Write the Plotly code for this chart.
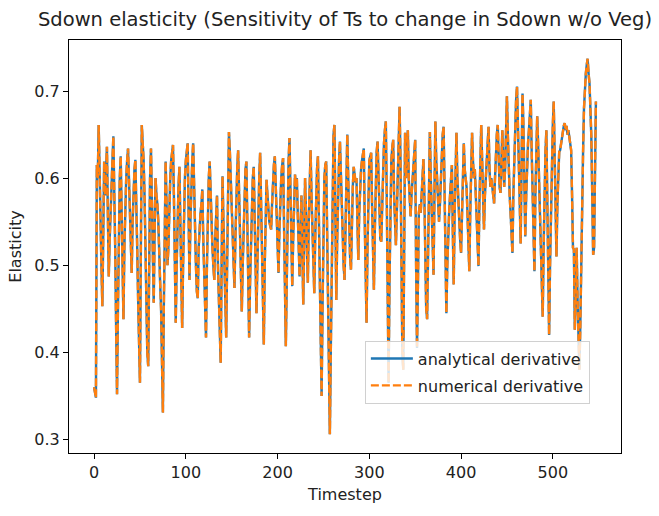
import plotly.graph_objects as go

# Elasticity of Ts with respect to Sdown (no vegetation), per timestep
analytical = [
    0.360, 0.355, 0.348, 0.615, 0.600, 0.661, 0.600, 0.520, 0.500, 0.453,
    0.550, 0.619, 0.580, 0.600, 0.636, 0.560, 0.487, 0.530, 0.570, 0.594,
    0.620, 0.648, 0.600, 0.520, 0.430, 0.352, 0.450, 0.550, 0.600, 0.625,
    0.570, 0.500, 0.438, 0.520, 0.580, 0.600, 0.620, 0.634, 0.600, 0.550,
    0.510, 0.491, 0.550, 0.590, 0.610, 0.621, 0.580, 0.520, 0.460, 0.400,
    0.365, 0.520, 0.661, 0.640, 0.620, 0.580, 0.500, 0.440, 0.400, 0.384,
    0.500, 0.600, 0.634, 0.580, 0.500, 0.457, 0.540, 0.600, 0.580, 0.570,
    0.550, 0.500, 0.480, 0.450, 0.390, 0.331, 0.450, 0.580, 0.619, 0.570,
    0.500, 0.520, 0.570, 0.600, 0.620, 0.630, 0.638, 0.580, 0.500, 0.434,
    0.500, 0.560, 0.590, 0.613, 0.550, 0.480, 0.428, 0.500, 0.560, 0.600,
    0.620, 0.635, 0.640, 0.560, 0.483, 0.550, 0.600, 0.620, 0.640, 0.580,
    0.530, 0.500, 0.470, 0.462, 0.520, 0.550, 0.560, 0.570, 0.587, 0.530,
    0.480, 0.440, 0.417, 0.500, 0.560, 0.600, 0.619, 0.580, 0.550, 0.520,
    0.500, 0.483, 0.530, 0.560, 0.580, 0.500, 0.450, 0.410, 0.388, 0.500,
    0.602, 0.550, 0.500, 0.450, 0.417, 0.500, 0.600, 0.653, 0.630, 0.600,
    0.570, 0.530, 0.500, 0.474, 0.530, 0.580, 0.610, 0.632, 0.590, 0.530,
    0.480, 0.447, 0.500, 0.550, 0.590, 0.610, 0.619, 0.560, 0.480, 0.417,
    0.480, 0.530, 0.570, 0.600, 0.613, 0.550, 0.490, 0.445, 0.500, 0.560,
    0.600, 0.629, 0.580, 0.520, 0.450, 0.409, 0.500, 0.570, 0.598, 0.580,
    0.560, 0.550, 0.545, 0.541, 0.570, 0.600, 0.615, 0.625, 0.590, 0.550,
    0.510, 0.491, 0.540, 0.580, 0.600, 0.615, 0.623, 0.550, 0.470, 0.407,
    0.480, 0.560, 0.620, 0.646, 0.600, 0.530, 0.476, 0.530, 0.580, 0.604,
    0.590, 0.600, 0.560, 0.510, 0.487, 0.540, 0.580, 0.520, 0.455, 0.530,
    0.600, 0.560, 0.510, 0.480, 0.550, 0.600, 0.632, 0.580, 0.530, 0.490,
    0.468, 0.530, 0.580, 0.610, 0.625, 0.550, 0.470, 0.400, 0.350, 0.450,
    0.550, 0.600, 0.615, 0.619, 0.540, 0.450, 0.370, 0.306, 0.400, 0.500,
    0.600, 0.650, 0.661, 0.550, 0.460, 0.530, 0.590, 0.620, 0.642, 0.600,
    0.560, 0.520, 0.500, 0.483, 0.550, 0.610, 0.650, 0.600, 0.550, 0.510,
    0.495, 0.550, 0.590, 0.613, 0.600, 0.595, 0.600, 0.550, 0.506, 0.560,
    0.600, 0.610, 0.620, 0.630, 0.634, 0.550, 0.470, 0.434, 0.520, 0.600,
    0.620, 0.625, 0.629, 0.570, 0.500, 0.472, 0.540, 0.600, 0.630, 0.642,
    0.600, 0.560, 0.530, 0.527, 0.570, 0.610, 0.640, 0.655, 0.665, 0.580,
    0.450, 0.365, 0.480, 0.590, 0.620, 0.635, 0.644, 0.580, 0.540, 0.523,
    0.560, 0.600, 0.640, 0.682, 0.620, 0.500, 0.400, 0.380, 0.500, 0.652,
    0.600, 0.620, 0.655, 0.600, 0.570, 0.556, 0.580, 0.600, 0.620, 0.635,
    0.644, 0.500, 0.405, 0.480, 0.560, 0.570, 0.560, 0.580, 0.600, 0.622,
    0.580, 0.500, 0.450, 0.438, 0.530, 0.600, 0.653, 0.600, 0.550, 0.510,
    0.489, 0.580, 0.665, 0.620, 0.590, 0.560, 0.550, 0.570, 0.600, 0.630,
    0.650, 0.659, 0.580, 0.500, 0.445, 0.500, 0.550, 0.560, 0.580, 0.600,
    0.615, 0.540, 0.478, 0.560, 0.620, 0.652, 0.600, 0.570, 0.550, 0.530,
    0.514, 0.570, 0.620, 0.640, 0.610, 0.600, 0.590, 0.560, 0.520, 0.493,
    0.560, 0.620, 0.652, 0.620, 0.600, 0.610, 0.580, 0.540, 0.510, 0.499,
    0.570, 0.630, 0.661, 0.620, 0.570, 0.541, 0.580, 0.610, 0.620, 0.640,
    0.659, 0.610, 0.590, 0.600, 0.590, 0.580, 0.571, 0.600, 0.630, 0.650,
    0.661, 0.620, 0.590, 0.583, 0.620, 0.655, 0.620, 0.590, 0.610, 0.650,
    0.694, 0.650, 0.600, 0.580, 0.560, 0.540, 0.514, 0.580, 0.630, 0.660,
    0.690, 0.705, 0.660, 0.600, 0.550, 0.525, 0.620, 0.697, 0.660, 0.600,
    0.533, 0.580, 0.620, 0.640, 0.655, 0.670, 0.690, 0.630, 0.570, 0.520,
    0.493, 0.580, 0.640, 0.671, 0.640, 0.600, 0.570, 0.530, 0.480, 0.441,
    0.520, 0.590, 0.630, 0.655, 0.580, 0.490, 0.420, 0.500, 0.570, 0.620,
    0.660, 0.688, 0.620, 0.550, 0.510, 0.570, 0.620, 0.630, 0.632, 0.640,
    0.650, 0.655, 0.660, 0.663, 0.655, 0.660, 0.650, 0.655, 0.645, 0.640,
    0.632, 0.580, 0.520, 0.518, 0.426, 0.470, 0.520, 0.460, 0.418, 0.380,
    0.430, 0.520, 0.587, 0.630, 0.680, 0.705, 0.720, 0.730, 0.737, 0.720,
    0.709, 0.680, 0.648, 0.580, 0.512, 0.520, 0.600, 0.688,
]
# Finite-difference estimate, identical to the analytical curve at this scale
numerical = list(analytical)
timesteps = list(range(len(analytical)))

BLUE = "#1f77b4"
ORANGE = "#ff7f0e"
FONT = "DejaVu Sans"

n = len(timesteps) - 1
ymin, ymax = min(analytical), max(analytical)
xpad = 0.05 * n
ypad = 0.05 * (ymax - ymin)

fig = go.Figure()
fig.add_trace(go.Scatter(
    x=timesteps, y=analytical, mode="lines", name="analytical derivative",
    legendgroup="a", line=dict(color=BLUE, width=2.4),
))
fig.add_trace(go.Scatter(
    x=timesteps, y=numerical, mode="lines", name="numerical derivative",
    legendgroup="n", line=dict(color=ORANGE, width=2.4, dash="8px,3px"),
))

axis_common = dict(
    showline=True, linecolor="black", linewidth=1.2, mirror=True,
    ticks="outside", ticklen=5, tickwidth=1.2, tickcolor="black",
    showgrid=False, zeroline=False,
    tickfont=dict(family=FONT, size=16, color="#222"),
)

fig.update_layout(
    width=659, height=516,
    margin=dict(l=69, r=38, t=40, b=63),
    paper_bgcolor="white", plot_bgcolor="white",
    font=dict(family=FONT, color="#222"),
    title=dict(
        text="Sdown elasticity (Sensitivity of Ts to change in Sdown w/o Veg)",
        font=dict(family=FONT, size=19.5, color="#222"),
        x=0.5, xref="paper", xanchor="center",
        y=1 - 19 / 516, yref="container", yanchor="middle",
    ),
    xaxis=dict(
        range=[-xpad, n + xpad], tickmode="array",
        tickvals=[0, 100, 200, 300, 400, 500],
        title=dict(text="Timestep", font=dict(family=FONT, size=16), standoff=7),
        **axis_common,
    ),
    yaxis=dict(
        range=[ymin - ypad, ymax + ypad], tickmode="array",
        tickvals=[0.3, 0.4, 0.5, 0.6, 0.7],
        ticktext=["0.3", "0.4", "0.5", "0.6", "0.7"],
        title=dict(text="Elasticity", font=dict(family=FONT, size=16), standoff=8),
        **axis_common,
    ),
    legend=dict(
        x=0.536, y=0.272, xanchor="left", yanchor="top",
        bgcolor="rgba(255,255,255,0.8)", bordercolor="#d0d0d0", borderwidth=1,
        font=dict(family=FONT, size=16, color="#222"),
        traceorder="grouped", tracegroupgap=3, itemwidth=42,
    ),
    showlegend=True,
)

fig.write_html("out.html")
